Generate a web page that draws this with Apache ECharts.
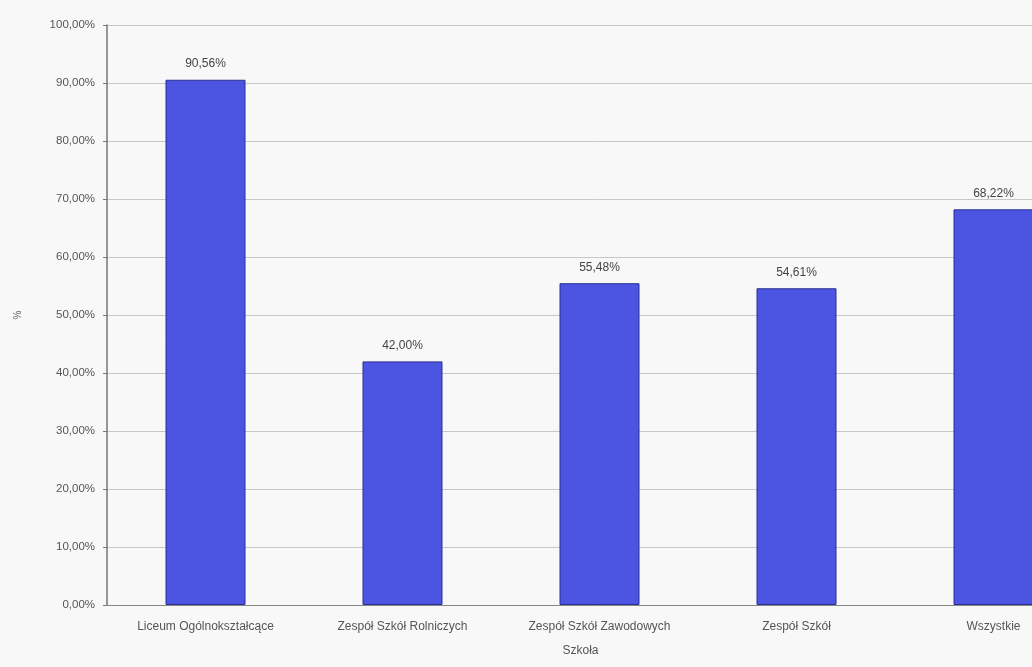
<!DOCTYPE html>
<html>
<head>
<meta charset="utf-8">
<script src="https://cdn.jsdelivr.net/npm/echarts@6/dist/echarts.min.js"></script>
<style>
html,body{margin:0;padding:0;background:#f8f8f8;overflow:hidden;width:1032px;height:667px;}
#chart{width:1092px;height:667px;}
</style>
</head>
<body>
<div id="chart"></div>
<script>
const categories = ["Liceum Ogólnokształcące", "Zespół Szkół Rolniczych", "Zespół Szkół Zawodowych", "Zespół Szkół", "Wszystkie"];
const values = [90.56, 42.00, 55.48, 54.61, 68.22];
const yTicks = [0, 10, 20, 30, 40, 50, 60, 70, 80, 90, 100];

const fmt = v => v.toFixed(2).replace('.', ',') + '%';

const chart = echarts.init(document.getElementById('chart'));
chart.setOption({
  backgroundColor: '#f8f8f8',
  animation: false,
  grid: { left: 107, top: 25, bottom: 62, right: 0, containLabel: false },
  xAxis: {
    type: 'category',
    data: categories,
    name: 'Szkoła',
    nameLocation: 'middle',
    nameGap: 40,
    nameTextStyle: { color: '#555', fontSize: 12, fontFamily: 'Liberation Sans, Arial, sans-serif', padding: [0, 38, 0, 0] },
    axisLine: { lineStyle: { color: '#888', width: 1 } },
    axisTick: { show: false },
    axisLabel: { color: '#555', fontSize: 12, margin: 16, fontFamily: 'Liberation Sans, Arial, sans-serif' }
  },
  yAxis: {
    type: 'value',
    min: yTicks[0], max: yTicks[yTicks.length - 1], interval: 10,
    name: '%',
    nameLocation: 'middle',
    nameRotate: 90,
    nameGap: 84,
    nameTextStyle: { color: '#666', fontSize: 10 },
    axisLine: { show: true, lineStyle: { color: '#777', width: 1.5 } },
    axisTick: { show: true, length: 4, lineStyle: { color: '#777' } },
    axisLabel: { color: '#555', fontSize: 11.5, margin: 12, fontFamily: 'Liberation Sans, Arial, sans-serif',
      formatter: v => fmt(v) },
    splitLine: { show: true, lineStyle: { color: '#c8c8c8', width: 1 } }
  },
  series: [{
    type: 'bar',
    data: values,
    barWidth: 80,
    itemStyle: { color: '#4b55e2', borderColor: '#2c3090', borderWidth: 1 },
    label: { show: true, position: 'top', distance: 10, color: '#444', fontSize: 12,
      fontFamily: 'Liberation Sans, Arial, sans-serif', formatter: p => fmt(p.value) }
  }]
});
</script>
</body>
</html>
